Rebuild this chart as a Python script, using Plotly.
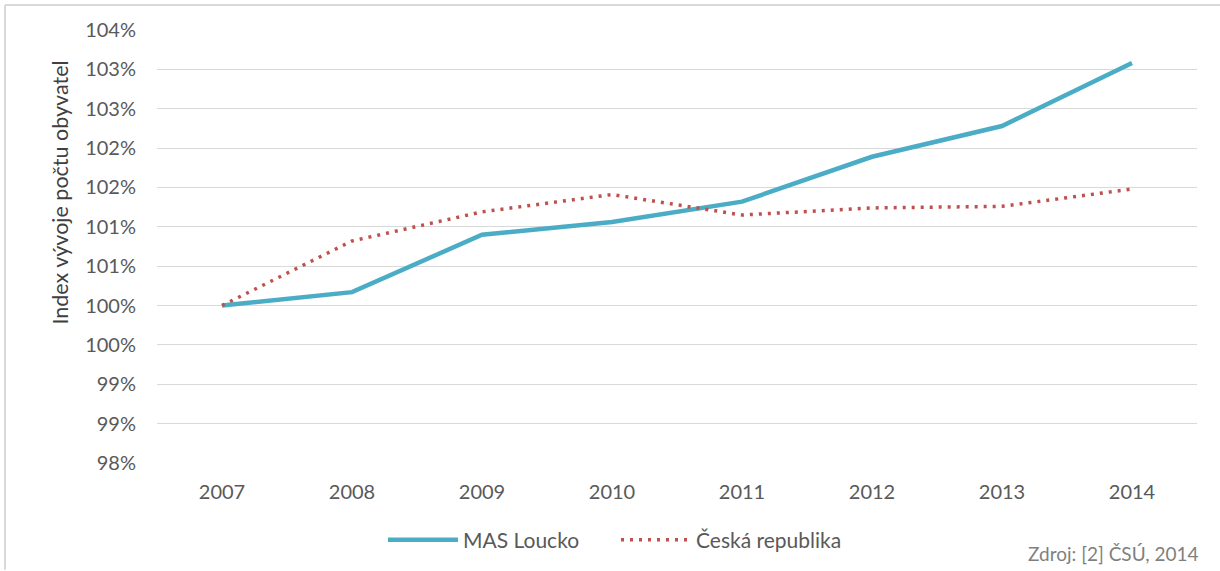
import plotly.graph_objects as go

years = ["2007", "2008", "2009", "2010", "2011", "2012", "2013", "2014"]
mas_loucko = [100.00, 100.17, 100.90, 101.06, 101.32, 101.89, 102.28, 103.08]
ceska_republika = [100.00, 100.82, 101.19, 101.41, 101.15, 101.24, 101.26, 101.48]

y_tickvals = [98.0, 98.5, 99.0, 99.5, 100.0, 100.5, 101.0, 101.5, 102.0, 102.5, 103.0, 103.5]
y_ticktext = ["98%", "99%", "99%", "100%", "100%", "101%", "101%", "102%", "102%", "103%", "103%", "104%"]

FONT = "Lato, Open Sans, sans-serif"
GREY = "#595959"

fig = go.Figure()
fig.add_trace(go.Scatter(
    x=years, y=mas_loucko, name="MAS Loucko", mode="lines",
    line=dict(color="#4BACC6", width=4.5),
))
fig.add_trace(go.Scatter(
    x=years, y=ceska_republika, name="Česká republika", mode="lines",
    line=dict(color="#C0504D", width=3.5, dash="3px,6px"),
))

L, R, T, B = 157, 23, 30, 107
W, H = 1220, 571
pw, ph = W - L - R, H - T - B

def px(xp):
    return (xp - L) / pw

def py(yp):
    return (H - B - yp) / ph

fig.update_layout(
    width=W, height=H,
    margin=dict(l=L, r=R, t=T, b=B),
    paper_bgcolor="white", plot_bgcolor="white",
    font=dict(family=FONT, color=GREY, size=20),
    showlegend=True,
    legend=dict(orientation="h", x=px(383), xanchor="left", y=py(540), yanchor="middle",
                font=dict(size=21, color=GREY), itemwidth=70, tracegroupgap=0,
                entrywidth=148, entrywidthmode="pixels"),
    xaxis=dict(type="category", range=[-0.5, 7.5], showgrid=False, zeroline=False,
               showline=False, ticks="", tickfont=dict(size=20, color=GREY),
               ticklabelstandoff=15),
    yaxis=dict(range=[98.0, 103.5], tickvals=y_tickvals, ticktext=y_ticktext,
               showgrid=True, gridcolor="#D9D9D9", gridwidth=1.3, zeroline=False,
               showline=False, ticks="", tickfont=dict(size=20, color=GREY),
               ticklabelstandoff=20),
    shapes=[
        dict(type="line", xref="paper", yref="paper", x0=px(5), x1=px(W), y0=py(5), y1=py(5),
             line=dict(color="#D9D9D9", width=2)),
        dict(type="line", xref="paper", yref="paper", x0=px(5), x1=px(5), y0=py(5), y1=py(H),
             line=dict(color="#D9D9D9", width=2)),
    ],
    annotations=[
        dict(text="Index vývoje počtu obyvatel", xref="paper", yref="paper",
             x=px(60), y=py(193), xanchor="center", yanchor="middle", textangle=-90,
             showarrow=False, font=dict(size=21.5, color="#404040", family=FONT)),
        dict(text="Zdroj: [2] ČSÚ, 2014", xref="paper", yref="paper", x=px(1200), y=py(555),
             xanchor="right", yanchor="middle", showarrow=False,
             font=dict(size=19, color="#7F7F7F", family=FONT)),
    ],
)

fig.write_html("out.html", config={"displayModeBar": False},
               post_script="document.body.style.margin='0';")
